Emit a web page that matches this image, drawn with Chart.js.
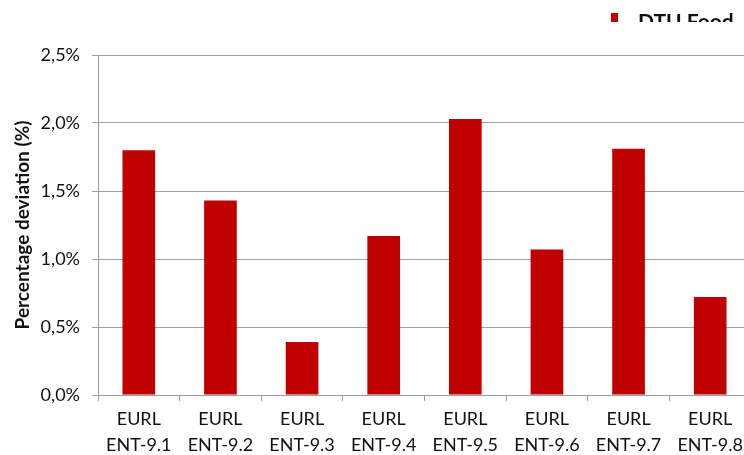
<!DOCTYPE html>
<html>
<head>
<meta charset="utf-8">
<script src="https://cdn.jsdelivr.net/npm/chart.js@4"></script>
<style>
html,body{margin:0;padding:0;background:#fff;overflow:hidden}
#wrap{width:752px;height:455px}
</style>
</head>
<body>
<div id="wrap"><canvas id="chart" width="752" height="455"></canvas></div>
<script>
const categories = [
  ["EURL","ENT-9.1"],["EURL","ENT-9.2"],["EURL","ENT-9.3"],["EURL","ENT-9.4"],
  ["EURL","ENT-9.5"],["EURL","ENT-9.6"],["EURL","ENT-9.7"],["EURL","ENT-9.8"]
]
const deviation = [1.80, 1.43, 0.39, 1.17, 2.03, 1.07, 1.81, 0.72]
const seriesName = "DTU Food"

const FONT = "Lato, 'Noto Sans', sans-serif"

/* legend is cut off at the top of the reference, draw it clipped */
const clippedLegend = {
  id:"clippedLegend",
  afterDraw(chart){
    const ctx = chart.ctx
    ctx.save()
    ctx.beginPath()
    ctx.rect(0,0,chart.width,22)
    ctx.clip()
    ctx.fillStyle = "#C00000"
    ctx.fillRect(611,13,7,12)
    ctx.fillStyle = "#111"
    ctx.font = "bold 21px " + FONT
    ctx.textBaseline = "alphabetic"
    ctx.fillText(seriesName,638,29)
    ctx.restore()
  }
}

new Chart(document.getElementById("chart"),{
  type:"bar",
  data:{
    labels:categories,
    datasets:[{
      label:seriesName,
      data:deviation,
      backgroundColor:"#C00000",
      borderWidth:0,
      barPercentage:1,
      categoryPercentage:0.4
    }]
  },
  options:{
    responsive:false,
    animation:false,
    layout:{padding:{top:55,right:1,left:0,bottom:0}},
    plugins:{legend:{display:false},tooltip:{enabled:false}},
    scales:{
      x:{
        grid:{display:true,drawOnChartArea:false,offset:true,tickLength:6,color:"#9a9a9a"},
        border:{color:"#9a9a9a"},
        ticks:{color:"#111",padding:6,maxRotation:0,autoSkip:false,font:{family:FONT,size:18,lineHeight:1.4}},
        afterFit(s){ s.height = 60 }
      },
      y:{
        min:0,max:2.5,
        grid:{color:"#a0a0a0",tickLength:6},
        border:{color:"#9a9a9a"},
        ticks:{
          stepSize:0.5,color:"#111",padding:12,
          font:{family:FONT,size:18},
          callback:v => v.toFixed(1).replace(".",",") + "%"
        },
        title:{display:true,text:"Percentage deviation (%)",color:"#111",
          font:{family:FONT,size:19,weight:"bold"},padding:{top:11,bottom:0}},
        afterFit(s){ s.width = 98 }
      }
    }
  },
  plugins:[clippedLegend]
})
</script>
</body>
</html>
